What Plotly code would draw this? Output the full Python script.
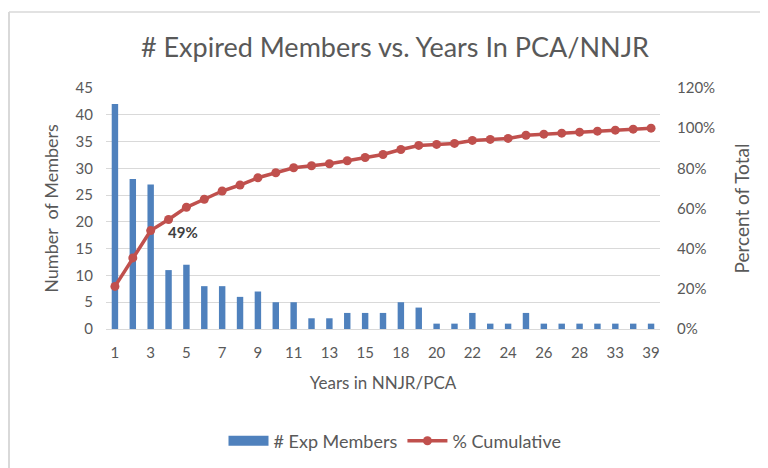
import plotly.graph_objects as go

years = ["1", "2", "3", "4", "5", "6", "7", "8", "9", "10", "11", "12", "13", "14", "15", "16",
         "18", "19", "20", "21", "22", "23", "24", "25", "26", "27", "28", "30", "33", "35", "39"]
exp_members = [42, 28, 27, 11, 12, 8, 8, 6, 7, 5, 5, 2, 2, 3, 3, 3,
               5, 4, 1, 1, 3, 1, 1, 3, 1, 1, 1, 1, 1, 1, 1]
pct_cumulative = [21.2, 35.4, 49.0, 54.5, 60.6, 64.6, 68.7, 71.7, 75.3, 77.8, 80.3, 81.3, 82.3, 83.8, 85.4, 86.9,
                  89.4, 91.4, 91.9, 92.4, 93.9, 94.4, 94.9, 96.5, 97.0, 97.5, 98.0, 98.5, 99.0, 99.5, 100.0]

FONT = "Lato"
GRAY = "#595959"
BLUE = "#4F81BD"
RED = "#C0504D"
OFF = 8  # page body margin
W, H = 768 - OFF, 468 - OFF
L, R, T, B = 106 - OFF, W - (660 - OFF), 88 - OFF, H - (329 - OFF)
pw = W - L - R
ph = H - T - B

fig = go.Figure()
fig.add_trace(go.Bar(x=years, y=exp_members, name="# Exp Members", legendgroup="bars",
                     showlegend=False, marker=dict(color=BLUE, line=dict(width=0)), yaxis="y"))
# legend entry drawn as a wide block, like the original's legend swatch
fig.add_trace(go.Scatter(x=[None], y=[None], name="# Exp Members", legendgroup="bars",
                         mode="lines", line=dict(color=BLUE, width=11), yaxis="y"))
fig.add_trace(go.Scatter(x=years, y=pct_cumulative, name="% Cumulative", mode="lines+markers",
                         line=dict(color=RED, width=3.5),
                         marker=dict(color=RED, size=9), yaxis="y2"))

fig.add_annotation(x=2, y=pct_cumulative[2], xref="x", yref="y2",
                   text="<b>49%</b>", showarrow=False, xanchor="left", yanchor="middle",
                   xshift=15, yshift=-1, font=dict(family=FONT, size=15, color="#404040"))

# chart frame (left and top edges)
x0 = (1 - L) / pw
y0 = 1 + (T - 4) / ph
fig.add_shape(type="line", xref="paper", yref="paper", x0=x0, x1=(W + 5 - L) / pw, y0=y0, y1=y0,
              line=dict(color="#D9D9D9", width=1.5))
fig.add_shape(type="line", xref="paper", yref="paper", x0=x0, x1=x0, y0=y0, y1=-(B + 5) / ph,
              line=dict(color="#D9D9D9", width=2))

fig.update_layout(
    width=W, height=H,
    margin=dict(l=L, r=R, t=T, b=B, autoexpand=False),
    paper_bgcolor="white", plot_bgcolor="white",
    font=dict(family=FONT, color=GRAY, size=15),
    title=dict(text="# Expired Members vs. Years In PCA/NNJR", x=(395 - OFF) / W, xanchor="center",
               y=1 - (48 - OFF) / H, yanchor="middle", font=dict(family=FONT, size=27, color=GRAY)),
    bargap=0.64,
    showlegend=True,
    legend=dict(orientation="h", x=(395 - OFF - L) / pw, xanchor="center", y=-(441 - 329) / ph,
                yanchor="middle", font=dict(family=FONT, size=18, color=GRAY), traceorder="normal",
                itemwidth=40),
    xaxis=dict(type="category", range=[-0.5, len(years) - 0.5], tickmode="array",
               tickvals=years[::2], ticktext=years[::2],
               showgrid=False, showline=True, linecolor="#D9D9D9", ticks="", automargin=False,
               ticklabelstandoff=10, tickfont=dict(size=15, color=GRAY),
               title=dict(text="Years in NNJR/PCA", font=dict(size=17, color=GRAY), standoff=17)),
    yaxis=dict(range=[0, 45], dtick=5, showgrid=True, gridcolor="#D9D9D9", gridwidth=1,
               zeroline=False, ticks="", automargin=False, ticklabelstandoff=12,
               tickfont=dict(size=15, color=GRAY),
               title=dict(text="Number  of Members", font=dict(size=18, color=GRAY), standoff=12)),
    yaxis2=dict(range=[0, 120], dtick=20, overlaying="y", side="right", showgrid=False,
                zeroline=False, ticks="", ticksuffix="%", automargin=False, ticklabelstandoff=16,
                tickfont=dict(size=15, color=GRAY),
                title=dict(text="Percent of Total", font=dict(size=19, color=GRAY), standoff=21)),
)

fig.write_html("out.html")
